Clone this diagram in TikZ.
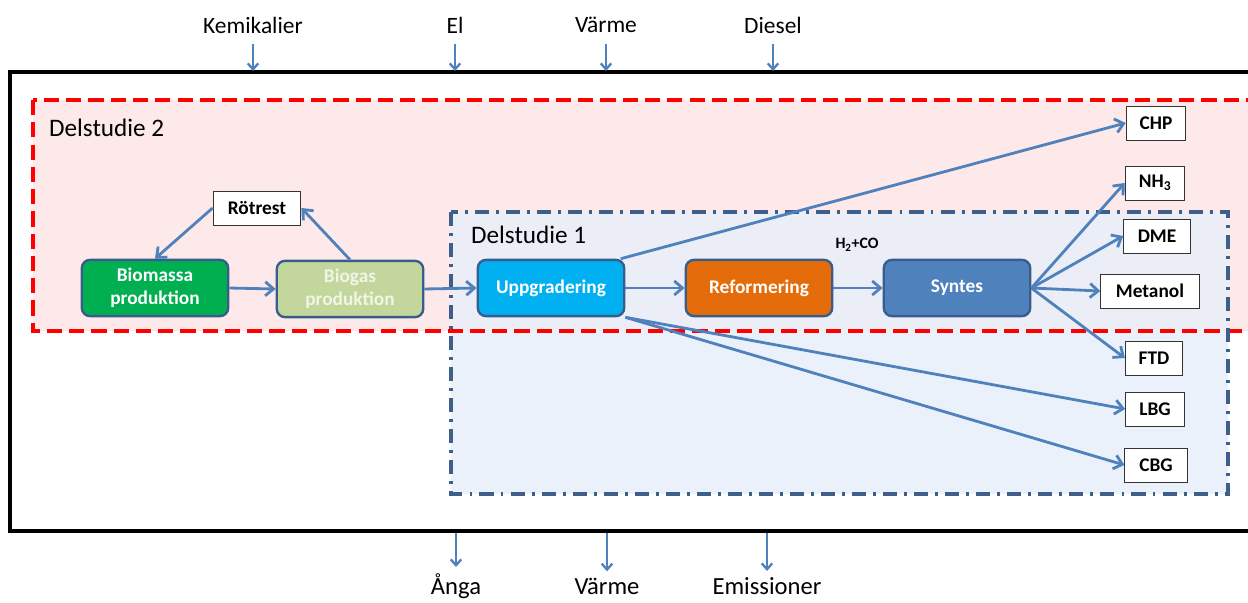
\documentclass[tikz,border=0pt]{standalone}
\usepackage{fontspec}
\setmainfont{Carlito}
\usetikzlibrary{arrows.meta}

\definecolor{flowblue}{RGB}{79,129,189}
\definecolor{edgeblue}{RGB}{56,93,138}
\definecolor{dashblue}{RGB}{62,95,138}
\definecolor{procgreen}{RGB}{0,176,80}
\definecolor{procolive}{RGB}{195,214,155}
\definecolor{olivetext}{RGB}{240,245,230}
\definecolor{proccyan}{RGB}{0,176,240}
\definecolor{procorange}{RGB}{228,108,10}
\definecolor{areared}{RGB}{253,233,233}
\definecolor{areablue}{RGB}{232,239,249}

\tikzset{
  proc/.style={draw=edgeblue, line width=2pt, rounded corners=7pt, minimum width=125pt,
    minimum height=48pt, text=white, align=center, font=\fontsize{16.5}{19.5}\selectfont\bfseries},
  prod/.style={draw=black!80, fill=white, line width=0.8pt, minimum height=29pt, inner sep=2pt,
    font=\fontsize{16.5}{18}\selectfont\bfseries},
  flow/.style={draw=flowblue, line width=2.4pt, -{Straight Barb[length=7pt,width=12pt]}},
  io/.style={draw=flowblue, line width=2pt, -{Straight Barb[length=5pt,width=9pt]}},
  lbl/.style={font=\fontsize{21.5}{23}\selectfont},
  iolbl/.style={font=\fontsize{20}{22}\selectfont}
}

\begin{document}
\begin{tikzpicture}[x=0.03cm,y=-0.03cm]
\useasboundingbox (0,0) rectangle (1248,602);
\clip (0,0) rectangle (1248,602);

% system boundary and study areas
\draw [line width=3pt] (10,72) rectangle (1275,531);
\fill [areared] (33,100) rectangle (1262,331);
\fill [areablue, fill opacity=0.85] (451,212) rectangle (1228,494);
\draw [red, line width=3pt, dash pattern=on 13pt off 6pt] (33,100) rectangle (1262,331);
\draw [dashblue, line width=3pt, dash pattern=on 12pt off 6pt on 2.5pt off 6pt] (451,212) rectangle (1228,494);

\node [lbl, anchor=west] (ds2) at (45,128) {Delstudie 2};
\node [lbl, anchor=west] (ds1) at (467,235) {Delstudie 1};

% process chain
\node [prod, minimum width=75pt] (rot) at (257,208) {Rötrest};
\node [proc, fill=procgreen] (bio) at (155,288) {Biomassa\\produktion};
\node [proc, fill=procolive, text=olivetext] (gas) at (350,289) {Biogas\\produktion};
\node [proc, fill=proccyan] (upp) at (551,288) {Uppgradering};
\node [proc, fill=procorange] (ref) at (759,288) {Reformering};
\node [proc, fill=flowblue] (syn) at (957,288) {Syntes};
\node [font=\fontsize{13.5}{15}\selectfont\bfseries] (h2co) at (857,245) {H\textsubscript{2}+CO};

% products
\node [prod, minimum width=51pt] (chp) at (1156,123) {CHP};
\node [prod, minimum width=51pt] (nh3) at (1155,183) {NH\textsubscript{3}};
\node [prod, minimum width=57pt] (dme) at (1157,236) {DME};
\node [prod, minimum width=84pt] (met) at (1150,291) {Metanol};
\node [prod, minimum width=49pt] (ftd) at (1154,358) {FTD};
\node [prod, minimum width=50pt] (lbg) at (1155,409) {LBG};
\node [prod, minimum width=53pt] (cbg) at (1156,465) {CBG};

\draw [flow] (rot.west) -- (bio.north);
\draw [flow] (gas.north) -- (rot.east);
\draw [flow] (bio.east) -- (gas.west);
\draw [flow] (gas.east) -- (upp.west);
\draw [flow] (upp.east) -- (ref.west);
\draw [flow] (ref.east) -- (syn.west);
\draw [flow] ([xshift=-4pt]upp.north east) -- (chp.west);
\draw [flow] (upp.south east) -- (lbg.west);
\draw [flow] (upp.south east) -- (cbg.west);
\foreach \p in {nh3,dme,met,ftd}
  \draw [flow] (syn.east) -- (\p.west);

% inputs and outputs
\foreach \x/\t/\n in {253/Kemikalier/kem, 455/El/el, 606/Värme/varin, 773/Diesel/dies} {
  \node [iolbl] (\n) at (\x,25) {\t};
  \coordinate (\n-in) at (\x,71);
  \draw [io, shorten <=6pt] (\n.south) -- (\n-in);
}
\foreach \x/\t/\n in {456/Ånga/anga, 607/Värme/varut, 767/Emissioner/emis} {
  \coordinate (\n-out) at (\x,533);
  \node [lbl, font=\fontsize{21}{23}\selectfont] (\n) at (\x,586) {\t};
  \draw [io, shorten >=2pt] (\n-out) -- (\n.north);
}
\end{tikzpicture}
\end{document}
